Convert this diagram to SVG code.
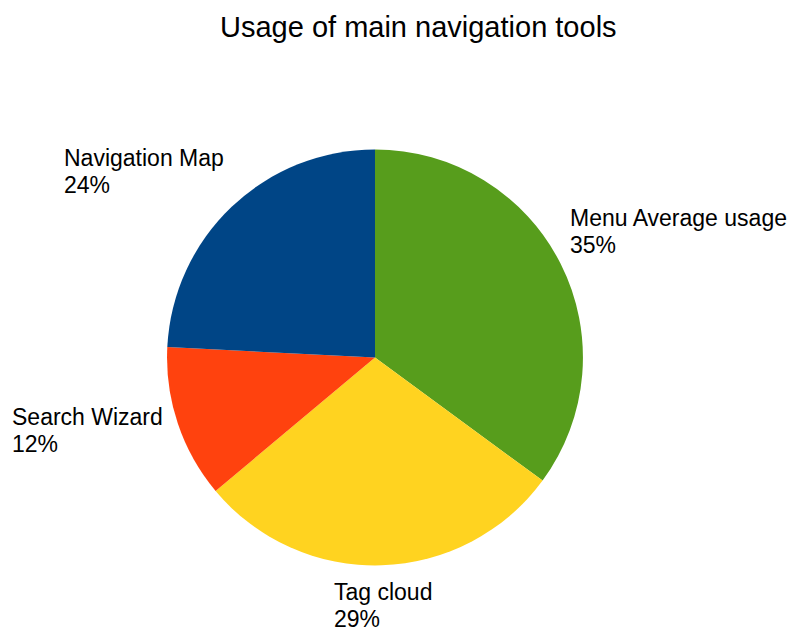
<svg xmlns="http://www.w3.org/2000/svg" width="792" height="633" viewBox="0 0 792 633">
<style>
text{font-family:"Liberation Sans",Arial,sans-serif;fill:#000}
.lbl{font-size:23px}
.title{font-size:29px}
</style>
<rect width="792" height="633" fill="#fff"/>
<text class="title" x="220" y="37">Usage of main navigation tools</text>
<g id="menu-average-usage">
<path d="M375,357.5 L375,149.5 A208,208 0 0 1 542.6,480.6 Z" fill="#579d1c"/>
<text class="lbl" x="570" y="226">Menu Average usage</text>
<text class="lbl" x="570" y="253">35%</text>
</g>
<g id="tag-cloud">
<path d="M375,357.5 L542.6,480.6 A208,208 0 0 1 215.6,491 Z" fill="#ffd320"/>
<text class="lbl" x="334" y="600">Tag cloud</text>
<text class="lbl" x="334" y="627">29%</text>
</g>
<g id="search-wizard">
<path d="M375,357.5 L215.6,491 A208,208 0 0 1 167.3,347 Z" fill="#ff420e"/>
<text class="lbl" x="12" y="425">Search Wizard</text>
<text class="lbl" x="12" y="452">12%</text>
</g>
<g id="navigation-map">
<path d="M375,357.5 L167.3,347 A208,208 0 0 1 375,149.5 Z" fill="#004586"/>
<text class="lbl" x="64" y="166">Navigation Map</text>
<text class="lbl" x="64" y="193">24%</text>
</g>
<g id="connectors"></g>
</svg>
